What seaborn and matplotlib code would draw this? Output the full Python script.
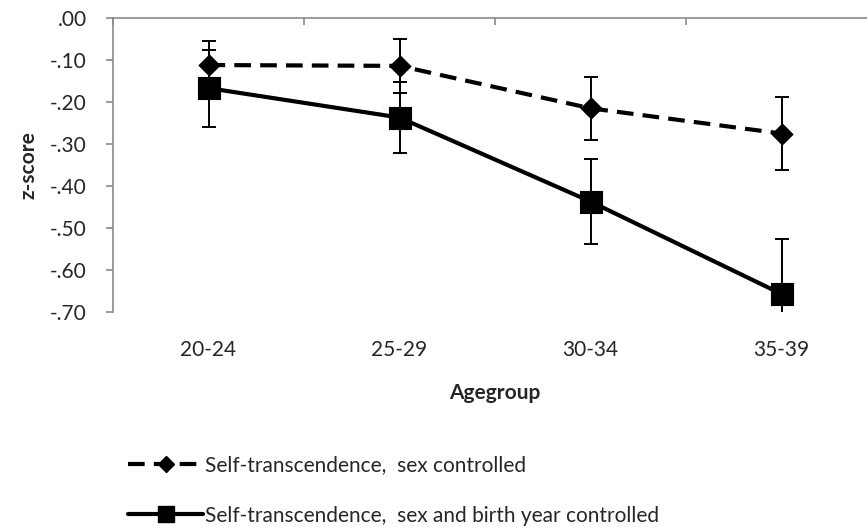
import numpy as np
import pandas as pd
import matplotlib
matplotlib.use('Agg')
import matplotlib.pyplot as plt
import seaborn as sns
from matplotlib.lines import Line2D

# data
agegroups = ['20-24', '25-29', '30-34', '35-39']
sex_mean = [-0.112, -0.114, -0.215, -0.275]
sex_err = [0.058, 0.064, 0.075, 0.087]
birth_mean = [-0.167, -0.237, -0.437, -0.657]
birth_err = [0.092, 0.084, 0.102, 0.130]
series_names = ['Self-transcendence,  sex controlled',
                'Self-transcendence,  sex and birth year controlled']
ytick_vals = [0.0, -0.1, -0.2, -0.3, -0.4, -0.5, -0.6, -0.7]
ytick_labels = ['.00', '-.10', '-.20', '-.30', '-.40', '-.50', '-.60', '-.70']

sns.set_style('white')
plt.rcParams['font.family'] = ['Lato', 'DejaVu Sans']
fs = 15
grey = '#8a8a8a'
lw = 3

d = pd.DataFrame({
    'agegroup': agegroups * 2,
    'z': sex_mean + birth_mean,
    'series': [series_names[0]] * 4 + [series_names[1]] * 4,
})

fig = plt.figure(figsize=(8.67, 5.30), dpi=100)
ax = fig.add_axes([113 / 867, 1 - 312 / 530, 764 / 867, 294 / 530])

# error bars first so markers sit on top
x = np.arange(len(agegroups))
ax.errorbar(x, sex_mean, yerr=sex_err, fmt='none', ecolor='black',
            elinewidth=1.4, capsize=5, capthick=1.4, zorder=2)
ax.errorbar(x, birth_mean, yerr=birth_err, fmt='none', ecolor='black',
            elinewidth=1.4, capsize=5, capthick=1.4, zorder=2)

sns.pointplot(data=d[d['series'] == series_names[0]], x='agegroup', y='z',
              order=agegroups, color='black', markers='D',
              linestyles=(0, (4, 2.2)), errorbar=None, markersize=9,
              linewidth=lw, ax=ax)
sns.pointplot(data=d[d['series'] == series_names[1]], x='agegroup', y='z',
              order=agegroups, color='black', markers='s',
              linestyles='-', errorbar=None, markersize=14,
              linewidth=lw, ax=ax)

ax.set_xlim(-0.5, 3.5)
ax.set_ylim(-0.70, 0.0)

# axes styling (excel-like: category axis crossing at zero)
for side in ['right', 'bottom']:
    ax.spines[side].set_visible(False)
for side in ['left', 'top']:
    ax.spines[side].set_visible(True)
    ax.spines[side].set_color(grey)
    ax.spines[side].set_linewidth(1.2)

ax.set_yticks(ytick_vals)
ax.set_yticklabels(ytick_labels, fontsize=fs)
ax.tick_params(axis='y', which='major', left=True, direction='out',
               length=5, width=1.2, color=grey, pad=14)
ax.set_xticks(x)
ax.set_xticklabels(agegroups, fontsize=fs)
ax.set_xticks(np.arange(-0.5, 4.0, 1.0), minor=True)
ax.tick_params(axis='x', which='major', length=0, pad=20)
ax.tick_params(axis='x', which='minor', bottom=False, top=True,
               direction='in', length=5, width=1.2, color=grey)

ax.set_xlabel('Agegroup', fontsize=fs, fontweight='bold', labelpad=17)
ax.set_ylabel('z-score', fontsize=fs, fontweight='bold', labelpad=8)

legend_items = [Line2D([0], [0], color='black', lw=lw, ls=(0, (4, 2.2)),
                       marker='D', markersize=8),
                Line2D([0], [0], color='black', lw=lw, ls='-',
                       marker='s', markersize=11)]
fig.legend(legend_items, series_names, loc='upper left',
           bbox_to_anchor=(120 / 867, 1 - 447 / 530), frameon=False,
           fontsize=fs, handlelength=3.6, handletextpad=0.1,
           labelspacing=1.45, borderaxespad=0)

fig.savefig('out.png', dpi=100)
